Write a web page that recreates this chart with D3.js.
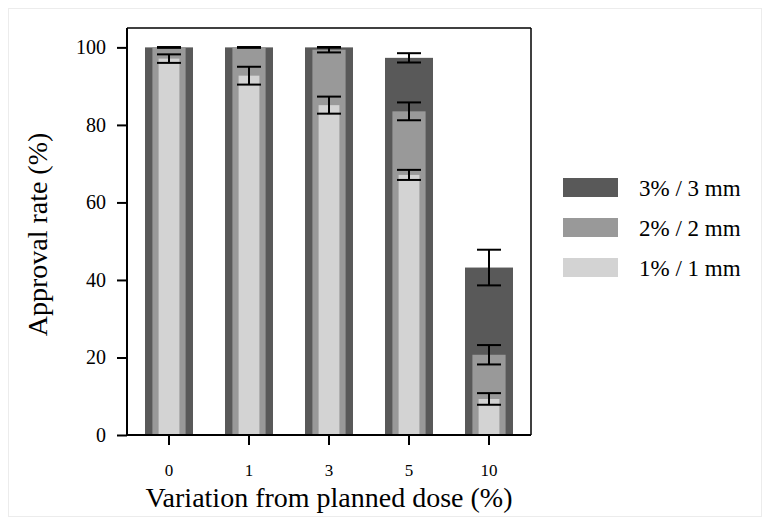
<!DOCTYPE html>
<html lang="en">
<head>
<meta charset="UTF-8">
<title>Approval rate</title>
<script src="https://d3js.org/d3.v7.min.js"></script>
<style>
  body { margin: 0; background: #fff; }
  text { font-family: "Liberation Serif", "DejaVu Serif", serif; fill: #000; }
</style>
</head>
<body>
<div id="wrapper"></div>

<script>
// data
const categories = ["0", "1", "3", "5", "10"];
const seriesNames = ["3% / 3 mm", "2% / 2 mm", "1% / 1 mm"];
const rate3 = [100, 100, 100, 97.3, 43.2];
const err3  = [0, 0, 0, 1.2, 4.6];
const rate2 = [100, 100, 99.4, 83.5, 20.7];
const err2  = [0, 0, 0.7, 2.3, 2.5];
const rate1 = [97.1, 92.7, 85.1, 67.1, 9.3];
const err1  = [1.1, 2.3, 2.2, 1.3, 1.5];
const yTicks = [0, 20, 40, 60, 80, 100];

const colors = ["#595959", "#999999", "#d3d3d3"];
const widthFrac = [0.6, 0.415, 0.26];   // nested bar widths, share of band step

// set the dimensions and margins of the graph
const W = 770, H = 532;
const margin = {top: 28, right: 239, bottom: 97, left: 127},
  width = W - margin.left - margin.right,
  height = H - margin.top - margin.bottom;

const root = d3.select("#wrapper")
  .append("svg")
  .attr("width", W)
  .attr("height", H);

// faint figure frame
root.append("rect")
  .attr("x", 8.5).attr("y", 8.5)
  .attr("width", W - 17).attr("height", H - 24)
  .attr("fill", "none")
  .attr("stroke", "#ececec");

const svg = root.append("g")
  .attr("transform", `translate(${margin.left},${margin.top})`);

// scales
const x = d3.scaleBand()
  .domain(categories)
  .range([0, width])
  .paddingOuter(0.025)
  .paddingInner(0);

const y = d3.scaleLinear()
  .domain([0, 105])
  .range([height, 0]);

const series = [
  {name: seriesNames[0], vals: rate3, errs: err3},
  {name: seriesNames[1], vals: rate2, errs: err2},
  {name: seriesNames[2], vals: rate1, errs: err1}
];

// bars, widest first so narrower ones sit on top
series.forEach((s, i) => {
  const bw = x.step() * widthFrac[i];
  svg.append("g")
    .selectAll("rect")
    .data(categories)
    .join("rect")
      .attr("x", d => x(d) + x.bandwidth() / 2 - bw / 2)
      .attr("y", (d, j) => y(s.vals[j]))
      .attr("width", bw)
      .attr("height", (d, j) => y(0) - y(s.vals[j]))
      .attr("fill", colors[i]);
});

// error bars
const capW = x.step() * 0.3;
series.forEach(s => {
  const g = svg.append("g")
    .attr("stroke", "#000")
    .attr("stroke-width", 2);
  categories.forEach((c, j) => {
    const cx = x(c) + x.bandwidth() / 2;
    const lo = y(s.vals[j] - s.errs[j]), hi = y(s.vals[j] + s.errs[j]);
    g.append("line").attr("x1", cx).attr("x2", cx).attr("y1", lo).attr("y2", hi);
    g.append("line").attr("x1", cx - capW / 2).attr("x2", cx + capW / 2).attr("y1", lo).attr("y2", lo);
    g.append("line").attr("x1", cx - capW / 2).attr("x2", cx + capW / 2).attr("y1", hi).attr("y2", hi);
  });
});

// axes
const yAxis = svg.append("g")
  .call(d3.axisLeft(y).tickValues(yTicks).tickSize(10).tickPadding(11).tickSizeOuter(0));
const xAxis = svg.append("g")
  .attr("transform", `translate(0,${height})`)
  .call(d3.axisBottom(x).tickSize(10).tickPadding(19).tickSizeOuter(0));

[yAxis, xAxis].forEach(a => {
  a.select(".domain").remove();
  a.selectAll("line").attr("stroke", "#000").attr("stroke-width", 2);
  a.selectAll("text")
    .style("font-family", '"Liberation Serif", serif')
    .attr("fill", "#000");
});
yAxis.selectAll("text").style("font-size", "20px");
xAxis.selectAll("text").style("font-size", "17px");

// spines: left/bottom heavier, top/right lighter
svg.append("line").attr("x1", 0).attr("x2", 0).attr("y1", 0).attr("y2", height)
  .attr("stroke", "#000").attr("stroke-width", 2);
svg.append("line").attr("x1", -1).attr("x2", width).attr("y1", height).attr("y2", height)
  .attr("stroke", "#000").attr("stroke-width", 2);
svg.append("line").attr("x1", 0).attr("x2", width).attr("y1", 0).attr("y2", 0)
  .attr("stroke", "#000").attr("stroke-width", 1.5);
svg.append("line").attr("x1", width).attr("x2", width).attr("y1", 0).attr("y2", height)
  .attr("stroke", "#000").attr("stroke-width", 1.5);

// axis titles
svg.append("text")
  .attr("x", width / 2)
  .attr("y", height + 72)
  .attr("text-anchor", "middle")
  .style("font-size", "28px")
  .text("Variation from planned dose (%)");

svg.append("text")
  .attr("transform", `translate(${-80},${height / 2 + 3}) rotate(-90)`)
  .attr("text-anchor", "middle")
  .style("font-size", "28px")
  .text("Approval rate (%)");

// legend
const legend = root.append("g")
  .attr("transform", "translate(563,178)");
series.forEach((s, i) => {
  legend.append("rect")
    .attr("x", 0).attr("y", i * 40)
    .attr("width", 55).attr("height", 19)
    .attr("fill", colors[i]);
  legend.append("text")
    .attr("x", 76).attr("y", i * 40 + 18)
    .style("font-size", "23px")
    .text(s.name);
});
</script>
</body>
</html>
